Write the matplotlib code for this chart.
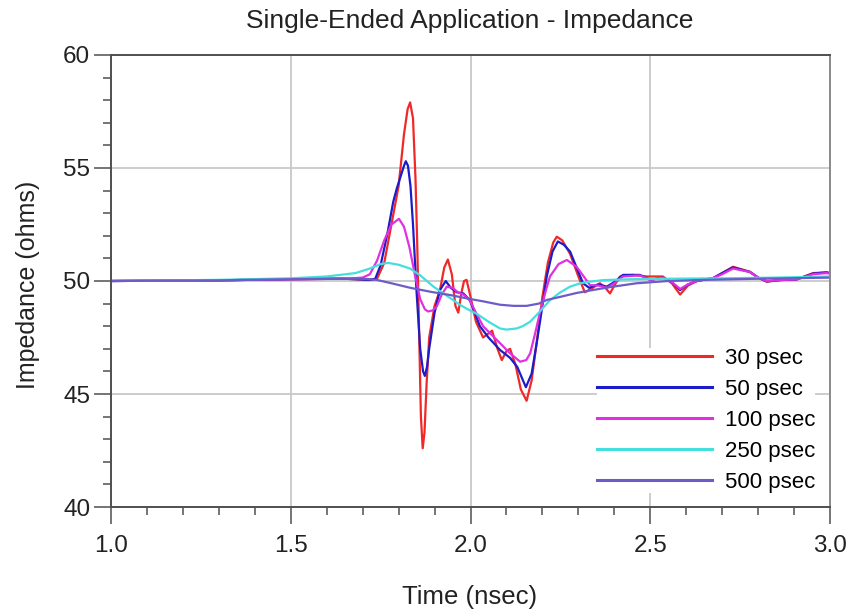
"""Single-ended TDR impedance vs. time for several rise times."""
import matplotlib
matplotlib.use("Agg")
import matplotlib.pyplot as plt
import matplotlib.ticker as mticker

plt.rcParams["font.family"] = ["Liberation Sans", "DejaVu Sans"]

# --- Data ---
t_30 = [1.0, 1.3, 1.5, 1.65, 1.72, 1.74, 1.76, 1.78, 1.80, 1.815, 1.825, 1.832, 1.84,
        1.847, 1.852, 1.858, 1.862, 1.867, 1.872, 1.878, 1.885, 1.90, 1.915, 1.927,
        1.937, 1.948, 1.958, 1.966, 1.975, 1.982, 1.989, 2.0, 2.015, 2.035, 2.06,
        2.075, 2.087, 2.10, 2.11, 2.125, 2.14, 2.156, 2.17, 2.185, 2.20, 2.215,
        2.23, 2.24, 2.255, 2.277, 2.30, 2.318, 2.34, 2.36, 2.375, 2.388, 2.40,
        2.416, 2.45, 2.49, 2.535, 2.56, 2.583, 2.605, 2.63, 2.675, 2.70, 2.73,
        2.777, 2.80, 2.824, 2.86, 2.907, 2.953, 2.99, 3.0]
z_30 = [50.0, 50.03, 50.08, 50.1, 50.05, 50.1, 50.8, 52.5, 54.2, 56.5, 57.6, 57.9, 57.2,
        54.5, 51.5, 47.0, 44.0, 42.6, 43.3, 45.5, 47.5, 48.9, 49.6, 50.6,
        50.95, 50.3, 48.9, 48.6, 49.5, 50.0, 50.05, 49.3, 48.2, 47.5, 47.8,
        47.0, 46.5, 46.9, 47.0, 46.3, 45.2, 44.7, 45.6, 47.4, 49.3, 50.8,
        51.7, 51.96, 51.8, 51.2, 50.2, 49.5, 49.7, 49.9, 49.7, 49.45, 49.8,
        50.2, 50.27, 50.2, 50.2, 49.9, 49.4, 49.8, 50.0, 50.13, 50.35, 50.63,
        50.41, 50.15, 49.97, 50.04, 50.07, 50.35, 50.38, 50.35]

t_50 = [1.0, 1.3, 1.5, 1.65, 1.72, 1.735, 1.75, 1.77, 1.785, 1.795, 1.805, 1.815, 1.82,
        1.826, 1.833, 1.84, 1.85, 1.86, 1.868, 1.873, 1.879, 1.885, 1.90, 1.915,
        1.931, 1.945, 1.962, 1.98, 1.998, 2.012, 2.026, 2.05, 2.082, 2.11, 2.13,
        2.154, 2.17, 2.184, 2.20, 2.212, 2.228, 2.243, 2.26, 2.277, 2.295, 2.313,
        2.33, 2.355, 2.379, 2.40, 2.424, 2.471, 2.5, 2.535, 2.56, 2.583, 2.605,
        2.63, 2.675, 2.70, 2.73, 2.777, 2.80, 2.824, 2.86, 2.907, 2.953, 2.99, 3.0]
z_50 = [50.0, 50.03, 50.08, 50.1, 50.05, 50.1, 50.7, 52.2, 53.5, 54.1, 54.6, 55.1, 55.3,
        55.1, 54.2, 52.5, 49.5, 47.0, 46.0, 45.8, 46.2, 47.0, 48.6, 49.6,
        50.0, 49.7, 49.5, 49.45, 49.15, 48.6, 48.0, 47.5, 46.95, 46.6, 46.2,
        45.3, 45.9, 47.25, 48.9, 50.2, 51.3, 51.75, 51.6, 51.3, 50.6, 49.9,
        49.7, 49.85, 49.75, 49.95, 50.27, 50.27, 50.05, 50.15, 49.95, 49.6, 49.85,
        50.0, 50.13, 50.35, 50.6, 50.4, 50.15, 49.98, 50.04, 50.07, 50.33, 50.38, 50.35]

t_100 = [1.0, 1.3, 1.5, 1.65, 1.70, 1.72, 1.74, 1.76, 1.78, 1.801, 1.815, 1.83,
         1.845, 1.86, 1.873, 1.882, 1.895, 1.906, 1.92, 1.934, 1.95, 1.965, 1.98,
         1.998, 2.015, 2.035, 2.06, 2.082, 2.11, 2.138, 2.155, 2.166, 2.18, 2.193,
         2.21, 2.221, 2.245, 2.268, 2.295, 2.315, 2.332, 2.355, 2.38, 2.40,
         2.424, 2.471, 2.5, 2.535, 2.56, 2.583, 2.605, 2.63, 2.675, 2.70, 2.73,
         2.777, 2.80, 2.824, 2.86, 2.907, 2.953, 2.99, 3.0]
z_100 = [50.0, 50.03, 50.08, 50.1, 50.15, 50.3, 50.9, 51.8, 52.5, 52.75, 52.4, 51.5,
         50.3, 49.2, 48.75, 48.65, 48.7, 48.87, 49.4, 49.75, 49.7, 49.5, 49.4,
         49.15, 48.6, 48.0, 47.6, 47.25, 46.8, 46.43, 46.5, 46.8, 47.7, 48.6,
         49.6, 50.2, 50.75, 50.93, 50.63, 50.2, 49.82, 49.8, 49.7, 49.9,
         50.2, 50.25, 50.05, 50.15, 49.95, 49.65, 49.85, 50.0, 50.13, 50.3, 50.55,
         50.4, 50.15, 50.0, 50.04, 50.07, 50.3, 50.35, 50.33]

t_250 = [1.0, 1.3, 1.5, 1.6, 1.68, 1.72, 1.75, 1.771, 1.80, 1.832, 1.86, 1.897,
         1.92, 1.943, 1.97, 1.998, 2.017, 2.05, 2.082, 2.10, 2.128, 2.145, 2.166,
         2.19, 2.221, 2.25, 2.277, 2.305, 2.332, 2.37, 2.45, 2.55, 2.7, 2.85, 3.0]
z_250 = [50.0, 50.05, 50.12, 50.2, 50.35, 50.55, 50.75, 50.8, 50.72, 50.55, 50.25, 49.75,
         49.5, 49.25, 48.95, 48.7, 48.55, 48.2, 47.9, 47.85, 47.9, 48.0, 48.2,
         48.6, 49.15, 49.5, 49.75, 49.9, 49.97, 50.04, 50.08, 50.1, 50.12, 50.15, 50.2]

t_500 = [1.0, 1.3, 1.5, 1.6, 1.7, 1.739, 1.78, 1.832, 1.89, 1.943, 2.0, 2.035,
         2.082, 2.12, 2.156, 2.19, 2.212, 2.25, 2.295, 2.34, 2.388, 2.462, 2.55,
         2.65, 2.8, 3.0]
z_500 = [50.0, 50.03, 50.08, 50.1, 50.1, 50.05, 49.9, 49.7, 49.52, 49.38, 49.2, 49.1,
         48.95, 48.9, 48.9, 49.0, 49.16, 49.3, 49.47, 49.6, 49.73, 49.9, 50.0,
         50.05, 50.1, 50.15]

series = [
    ("30 psec", t_30, z_30, "#f02828"),
    ("50 psec", t_50, z_50, "#1c1cc8"),
    ("100 psec", t_100, z_100, "#e030e0"),
    ("250 psec", t_250, z_250, "#44dede"),
    ("500 psec", t_500, z_500, "#6c5cc8"),
]

# --- Figure ---
fig = plt.figure(figsize=(8.5, 6.13), dpi=100)
ax = fig.add_axes([0.1306, 0.1729, 0.8459, 0.7374])

for label, t, z, c in series:
    ax.plot(t, z, color=c, linewidth=1.6, label=label, solid_joinstyle="round")

ax.set_xlim(1.0, 3.0)
ax.set_ylim(40, 60)
ax.xaxis.set_major_locator(mticker.MultipleLocator(0.5))
ax.xaxis.set_minor_locator(mticker.MultipleLocator(0.1))
ax.yaxis.set_major_locator(mticker.MultipleLocator(5))
ax.yaxis.set_minor_locator(mticker.MultipleLocator(1))
ax.xaxis.set_major_formatter(mticker.FormatStrFormatter("%.1f"))

ax.grid(True, which="major", color="#c8c8c8", linewidth=1.3)
ax.set_axisbelow(True)
for s in ax.spines.values():
    s.set_color("#505050")
    s.set_linewidth(1.4)
ax.spines["right"].set_color("#8a8a8a")

ax.tick_params(which="major", direction="out", length=12, width=1.1,
               color="#505050", labelsize=17.5, labelcolor="#222222")
ax.tick_params(axis="x", which="major", pad=8)
ax.tick_params(axis="y", which="major", pad=3)
ax.tick_params(which="minor", direction="out", length=6, width=1.1, color="#505050")

fig.text(0.553, 0.965, "Single-Ended Application - Impedance",
         ha="center", va="center", fontsize=19, color="#222222")
fig.text(0.553, 0.026, "Time (nsec)", ha="center", va="center",
         fontsize=18.5, color="#222222")
fig.text(0.033, 0.535, "Impedance (ohms)", ha="center", va="center",
         rotation=90, fontsize=18, color="#222222")

leg = ax.legend(loc="lower right", bbox_to_anchor=(0.9946, 0.006), fontsize=16,
                handlelength=5.2, handletextpad=0.55, labelspacing=0.455,
                frameon=True, fancybox=False, framealpha=1.0,
                edgecolor="none", facecolor="white", borderpad=0.0)
for h in leg.get_lines():
    h.set_linewidth(2.2)

fig.savefig("out.png", dpi=100)
